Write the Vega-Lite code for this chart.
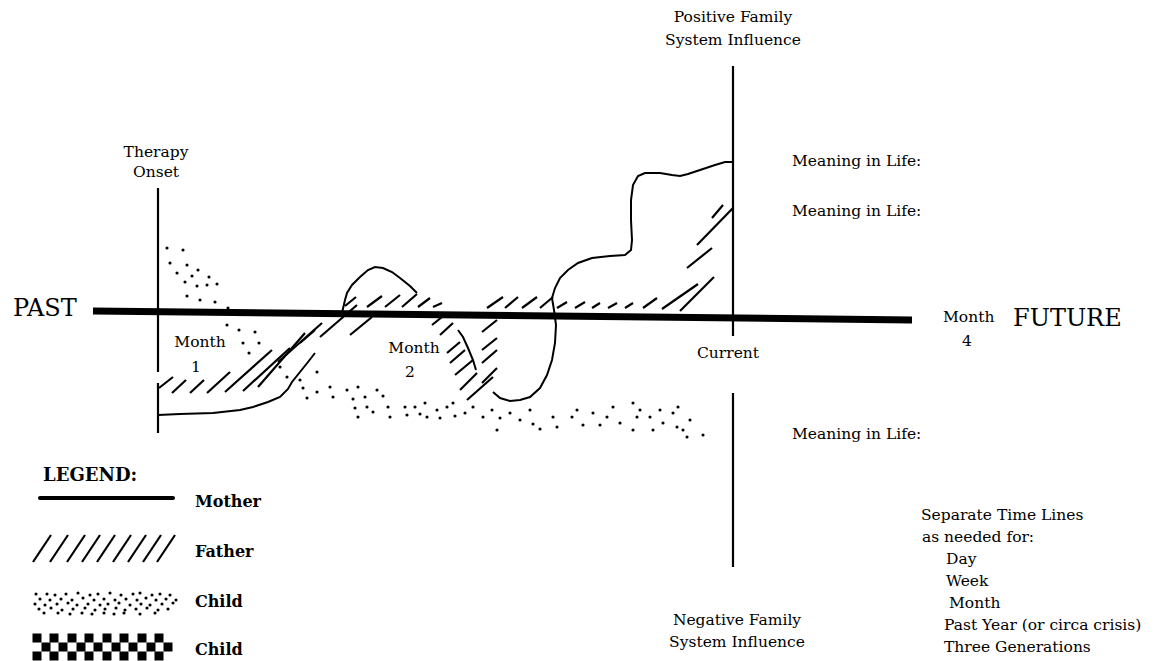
{
  "$schema": "https://vega.github.io/schema/vega-lite/v6.json",
  "width": 1165,
  "height": 661,
  "autosize": {"type": "fit", "contains": "padding"},
  "padding": 0,
  "background": "white",
  "config": {"view": {"stroke": null}},
  "datasets": {
    "vlines": [
      {"x": 158, "y": 188, "x2": 158, "y2": 372},
      {"x": 158, "y": 383, "x2": 158, "y2": 433},
      {"x": 733, "y": 66, "x2": 733, "y2": 336},
      {"x": 733, "y": 393, "x2": 733, "y2": 567}
    ],
    "axis": [{"x": 93, "y": 311, "x2": 912, "y2": 320}],
    "legendLine": [{"x": 40, "y": 498, "x2": 173, "y2": 498}],
    "hatch": [
      {"x": 159, "y": 388, "x2": 173, "y2": 377},
      {"x": 172, "y": 393, "x2": 186, "y2": 380},
      {"x": 190, "y": 393, "x2": 204, "y2": 380},
      {"x": 207, "y": 393, "x2": 230, "y2": 372},
      {"x": 225, "y": 392, "x2": 272, "y2": 350},
      {"x": 243, "y": 391, "x2": 290, "y2": 348},
      {"x": 258, "y": 387, "x2": 305, "y2": 333},
      {"x": 278, "y": 362, "x2": 322, "y2": 323},
      {"x": 300, "y": 343, "x2": 315, "y2": 330},
      {"x": 320, "y": 337, "x2": 357, "y2": 305},
      {"x": 350, "y": 335, "x2": 372, "y2": 317},
      {"x": 345, "y": 306, "x2": 356, "y2": 297},
      {"x": 367, "y": 307, "x2": 382, "y2": 296},
      {"x": 385, "y": 307, "x2": 400, "y2": 295},
      {"x": 402, "y": 307, "x2": 417, "y2": 294},
      {"x": 418, "y": 307, "x2": 430, "y2": 298},
      {"x": 433, "y": 307, "x2": 442, "y2": 303},
      {"x": 432, "y": 325, "x2": 447, "y2": 313},
      {"x": 440, "y": 335, "x2": 453, "y2": 323},
      {"x": 447, "y": 353, "x2": 460, "y2": 342},
      {"x": 450, "y": 363, "x2": 465, "y2": 350},
      {"x": 455, "y": 375, "x2": 473, "y2": 360},
      {"x": 460, "y": 390, "x2": 477, "y2": 373},
      {"x": 467, "y": 400, "x2": 493, "y2": 377},
      {"x": 482, "y": 383, "x2": 497, "y2": 368},
      {"x": 482, "y": 363, "x2": 497, "y2": 350},
      {"x": 482, "y": 350, "x2": 497, "y2": 338},
      {"x": 482, "y": 332, "x2": 497, "y2": 320},
      {"x": 487, "y": 308, "x2": 503, "y2": 297},
      {"x": 505, "y": 308, "x2": 518, "y2": 297},
      {"x": 522, "y": 308, "x2": 537, "y2": 297},
      {"x": 540, "y": 308, "x2": 553, "y2": 297},
      {"x": 557, "y": 308, "x2": 567, "y2": 302},
      {"x": 575, "y": 308, "x2": 585, "y2": 302},
      {"x": 592, "y": 308, "x2": 600, "y2": 303},
      {"x": 608, "y": 308, "x2": 617, "y2": 303},
      {"x": 625, "y": 308, "x2": 633, "y2": 303},
      {"x": 643, "y": 308, "x2": 657, "y2": 298},
      {"x": 662, "y": 309, "x2": 698, "y2": 284},
      {"x": 680, "y": 311, "x2": 714, "y2": 277},
      {"x": 687, "y": 268, "x2": 712, "y2": 248},
      {"x": 697, "y": 245, "x2": 733, "y2": 208},
      {"x": 712, "y": 218, "x2": 723, "y2": 205},
      {"x": 33, "y": 562, "x2": 51, "y2": 535},
      {"x": 50, "y": 562, "x2": 68, "y2": 535},
      {"x": 67, "y": 562, "x2": 85, "y2": 535},
      {"x": 82, "y": 562, "x2": 100, "y2": 535},
      {"x": 97, "y": 562, "x2": 115, "y2": 535},
      {"x": 113, "y": 562, "x2": 131, "y2": 535},
      {"x": 128, "y": 562, "x2": 146, "y2": 535},
      {"x": 143, "y": 562, "x2": 161, "y2": 535},
      {"x": 157, "y": 562, "x2": 175, "y2": 535}
    ],
    "mother": [
      {"seg": "a", "i": 1, "x": 158, "y": 415},
      {"seg": "a", "i": 2, "x": 180, "y": 414},
      {"seg": "a", "i": 3, "x": 213, "y": 413},
      {"seg": "a", "i": 4, "x": 240, "y": 410},
      {"seg": "a", "i": 5, "x": 253, "y": 407},
      {"seg": "a", "i": 6, "x": 268, "y": 402},
      {"seg": "a", "i": 7, "x": 280, "y": 397},
      {"seg": "a", "i": 8, "x": 288, "y": 389},
      {"seg": "a", "i": 9, "x": 292, "y": 382},
      {"seg": "a", "i": 10, "x": 300, "y": 372},
      {"seg": "a", "i": 11, "x": 308, "y": 362},
      {"seg": "a", "i": 12, "x": 315, "y": 353},
      {"seg": "b", "i": 1, "x": 342, "y": 313},
      {"seg": "b", "i": 2, "x": 345, "y": 300},
      {"seg": "b", "i": 3, "x": 347, "y": 293},
      {"seg": "b", "i": 4, "x": 352, "y": 285},
      {"seg": "b", "i": 5, "x": 360, "y": 277},
      {"seg": "b", "i": 6, "x": 368, "y": 270},
      {"seg": "b", "i": 7, "x": 375, "y": 267},
      {"seg": "b", "i": 8, "x": 383, "y": 268},
      {"seg": "b", "i": 9, "x": 392, "y": 272},
      {"seg": "b", "i": 10, "x": 400, "y": 278},
      {"seg": "b", "i": 11, "x": 410, "y": 286},
      {"seg": "b", "i": 12, "x": 417, "y": 293},
      {"seg": "c", "i": 1, "x": 458, "y": 330},
      {"seg": "c", "i": 2, "x": 463, "y": 337},
      {"seg": "c", "i": 3, "x": 468, "y": 348},
      {"seg": "c", "i": 4, "x": 473, "y": 360},
      {"seg": "c", "i": 5, "x": 476, "y": 370},
      {"seg": "d", "i": 1, "x": 493, "y": 392},
      {"seg": "d", "i": 2, "x": 500, "y": 398},
      {"seg": "d", "i": 3, "x": 510, "y": 401},
      {"seg": "d", "i": 4, "x": 520, "y": 400},
      {"seg": "d", "i": 5, "x": 530, "y": 397},
      {"seg": "d", "i": 6, "x": 540, "y": 388},
      {"seg": "d", "i": 7, "x": 547, "y": 375},
      {"seg": "d", "i": 8, "x": 552, "y": 360},
      {"seg": "d", "i": 9, "x": 555, "y": 343},
      {"seg": "d", "i": 10, "x": 556, "y": 325},
      {"seg": "d", "i": 11, "x": 554, "y": 310},
      {"seg": "d", "i": 12, "x": 552, "y": 298},
      {"seg": "d", "i": 13, "x": 555, "y": 288},
      {"seg": "d", "i": 14, "x": 560, "y": 278},
      {"seg": "d", "i": 15, "x": 568, "y": 270},
      {"seg": "d", "i": 16, "x": 578, "y": 263},
      {"seg": "d", "i": 17, "x": 592, "y": 258},
      {"seg": "d", "i": 18, "x": 610, "y": 256},
      {"seg": "d", "i": 19, "x": 625, "y": 255},
      {"seg": "d", "i": 20, "x": 631, "y": 250},
      {"seg": "d", "i": 21, "x": 632, "y": 240},
      {"seg": "d", "i": 22, "x": 631, "y": 220},
      {"seg": "d", "i": 23, "x": 631, "y": 200},
      {"seg": "d", "i": 24, "x": 633, "y": 185},
      {"seg": "d", "i": 25, "x": 638, "y": 176},
      {"seg": "d", "i": 26, "x": 645, "y": 173},
      {"seg": "d", "i": 27, "x": 660, "y": 173},
      {"seg": "d", "i": 28, "x": 672, "y": 175},
      {"seg": "d", "i": 29, "x": 680, "y": 176},
      {"seg": "d", "i": 30, "x": 688, "y": 174},
      {"seg": "d", "i": 31, "x": 700, "y": 170},
      {"seg": "d", "i": 32, "x": 715, "y": 165},
      {"seg": "d", "i": 33, "x": 725, "y": 162},
      {"seg": "d", "i": 34, "x": 733, "y": 162}
    ],
    "dots": [
      {"x": 167, "y": 248}, {"x": 183, "y": 250}, {"x": 170, "y": 263}, {"x": 187, "y": 265},
      {"x": 177, "y": 273}, {"x": 192, "y": 276}, {"x": 198, "y": 270}, {"x": 209, "y": 277},
      {"x": 185, "y": 282}, {"x": 197, "y": 286}, {"x": 207, "y": 285}, {"x": 217, "y": 284},
      {"x": 187, "y": 296}, {"x": 200, "y": 300}, {"x": 215, "y": 302}, {"x": 228, "y": 308},
      {"x": 227, "y": 325}, {"x": 239, "y": 330}, {"x": 255, "y": 332}, {"x": 243, "y": 343},
      {"x": 259, "y": 343}, {"x": 249, "y": 353}, {"x": 280, "y": 367}, {"x": 287, "y": 377},
      {"x": 300, "y": 380}, {"x": 303, "y": 388}, {"x": 307, "y": 398}, {"x": 317, "y": 372},
      {"x": 317, "y": 392}, {"x": 330, "y": 387}, {"x": 333, "y": 397}, {"x": 347, "y": 390},
      {"x": 353, "y": 399}, {"x": 358, "y": 387}, {"x": 365, "y": 397}, {"x": 377, "y": 390},
      {"x": 383, "y": 396}, {"x": 355, "y": 408}, {"x": 367, "y": 407}, {"x": 358, "y": 417},
      {"x": 373, "y": 412}, {"x": 388, "y": 407}, {"x": 390, "y": 417}, {"x": 405, "y": 407},
      {"x": 407, "y": 415}, {"x": 415, "y": 407}, {"x": 420, "y": 414}, {"x": 427, "y": 417},
      {"x": 425, "y": 403}, {"x": 437, "y": 410}, {"x": 440, "y": 418}, {"x": 447, "y": 407},
      {"x": 453, "y": 403}, {"x": 455, "y": 416}, {"x": 465, "y": 413}, {"x": 473, "y": 407},
      {"x": 483, "y": 417}, {"x": 492, "y": 410}, {"x": 500, "y": 418}, {"x": 497, "y": 430},
      {"x": 510, "y": 413}, {"x": 520, "y": 420}, {"x": 530, "y": 410}, {"x": 533, "y": 424},
      {"x": 540, "y": 429}, {"x": 553, "y": 417}, {"x": 557, "y": 427}, {"x": 572, "y": 417},
      {"x": 577, "y": 410}, {"x": 583, "y": 425}, {"x": 593, "y": 413}, {"x": 600, "y": 425},
      {"x": 607, "y": 417}, {"x": 613, "y": 407}, {"x": 620, "y": 423}, {"x": 633, "y": 403},
      {"x": 637, "y": 417}, {"x": 640, "y": 410}, {"x": 633, "y": 430}, {"x": 650, "y": 417},
      {"x": 653, "y": 430}, {"x": 660, "y": 410}, {"x": 663, "y": 423}, {"x": 673, "y": 413},
      {"x": 677, "y": 427}, {"x": 678, "y": 407}, {"x": 683, "y": 430}, {"x": 687, "y": 437},
      {"x": 703, "y": 435}, {"x": 690, "y": 420},
      {"x": 36, "y": 594}, {"x": 47, "y": 594}, {"x": 55, "y": 595}, {"x": 66, "y": 594}, {"x": 78, "y": 593},
      {"x": 90, "y": 595}, {"x": 98, "y": 594}, {"x": 110, "y": 593}, {"x": 121, "y": 595}, {"x": 133, "y": 594},
      {"x": 140, "y": 593}, {"x": 152, "y": 595}, {"x": 160, "y": 594}, {"x": 170, "y": 595},
      {"x": 40, "y": 599}, {"x": 50, "y": 600}, {"x": 61, "y": 599}, {"x": 72, "y": 600}, {"x": 83, "y": 598},
      {"x": 94, "y": 600}, {"x": 104, "y": 599}, {"x": 115, "y": 600}, {"x": 126, "y": 599}, {"x": 137, "y": 600},
      {"x": 146, "y": 598}, {"x": 156, "y": 600}, {"x": 166, "y": 599}, {"x": 176, "y": 600},
      {"x": 35, "y": 604}, {"x": 45, "y": 605}, {"x": 57, "y": 604}, {"x": 68, "y": 603}, {"x": 77, "y": 605},
      {"x": 88, "y": 604}, {"x": 100, "y": 605}, {"x": 108, "y": 604}, {"x": 119, "y": 603}, {"x": 130, "y": 605},
      {"x": 141, "y": 604}, {"x": 150, "y": 605}, {"x": 162, "y": 604}, {"x": 173, "y": 603},
      {"x": 39, "y": 609}, {"x": 51, "y": 608}, {"x": 62, "y": 610}, {"x": 73, "y": 609}, {"x": 85, "y": 608},
      {"x": 95, "y": 610}, {"x": 105, "y": 609}, {"x": 116, "y": 608}, {"x": 125, "y": 610}, {"x": 136, "y": 609},
      {"x": 147, "y": 608}, {"x": 158, "y": 610}, {"x": 168, "y": 609},
      {"x": 44, "y": 613}, {"x": 58, "y": 613}, {"x": 70, "y": 614}, {"x": 82, "y": 613}, {"x": 92, "y": 614},
      {"x": 104, "y": 613}, {"x": 114, "y": 614}, {"x": 124, "y": 613}, {"x": 140, "y": 614}, {"x": 155, "y": 613}
    ],
    "checker": [
      {"x": 37, "y": 638}, {"x": 54, "y": 638}, {"x": 72, "y": 638}, {"x": 89, "y": 638}, {"x": 107, "y": 638},
      {"x": 124, "y": 638}, {"x": 142, "y": 638}, {"x": 159, "y": 638},
      {"x": 46, "y": 647}, {"x": 63, "y": 647}, {"x": 81, "y": 647}, {"x": 98, "y": 647}, {"x": 116, "y": 647},
      {"x": 133, "y": 647}, {"x": 151, "y": 647}, {"x": 168, "y": 647},
      {"x": 37, "y": 656}, {"x": 54, "y": 656}, {"x": 72, "y": 656}, {"x": 89, "y": 656}, {"x": 107, "y": 656},
      {"x": 124, "y": 656}, {"x": 142, "y": 656}, {"x": 159, "y": 656}
    ],
    "centerText": [
      {"t": "Therapy", "x": 156, "y": 152},
      {"t": "Onset", "x": 156, "y": 172},
      {"t": "Month", "x": 200, "y": 342},
      {"t": "1", "x": 196, "y": 367},
      {"t": "Month", "x": 414, "y": 348},
      {"t": "2", "x": 410, "y": 372},
      {"t": "Current", "x": 728, "y": 353},
      {"t": "Positive Family", "x": 733, "y": 17},
      {"t": "System Influence", "x": 733, "y": 40},
      {"t": "Negative Family", "x": 737, "y": 620},
      {"t": "System Influence", "x": 737, "y": 642},
      {"t": "4", "x": 967, "y": 341}
    ],
    "leftText": [
      {"t": "Meaning in Life:", "x": 792, "y": 161},
      {"t": "Meaning in Life:", "x": 792, "y": 211},
      {"t": "Meaning in Life:", "x": 792, "y": 434},
      {"t": "Month", "x": 943, "y": 317},
      {"t": "Separate Time Lines", "x": 921, "y": 515},
      {"t": "as needed for:", "x": 922, "y": 537},
      {"t": "Day", "x": 946, "y": 559},
      {"t": "Week", "x": 946, "y": 581},
      {"t": "Month", "x": 949, "y": 603},
      {"t": "Past Year (or circa crisis)", "x": 944, "y": 625},
      {"t": "Three Generations", "x": 944, "y": 647}
    ],
    "bigText": [
      {"t": "PAST", "x": 13, "y": 309},
      {"t": "FUTURE", "x": 1013, "y": 319}
    ],
    "legendText": [
      {"t": "Mother", "x": 195, "y": 502},
      {"t": "Father", "x": 195, "y": 552},
      {"t": "Child", "x": 195, "y": 602},
      {"t": "Child", "x": 195, "y": 650}
    ],
    "legendTitle": [
      {"t": "LEGEND:", "x": 43, "y": 476}
    ]
  },
  "encoding": {
    "x": {"field": "x", "type": "quantitative", "scale": {"domain": [0, 1165], "nice": false, "zero": false}, "axis": null},
    "y": {"field": "y", "type": "quantitative", "scale": {"domain": [0, 661], "reverse": true, "nice": false, "zero": false}, "axis": null}
  },
  "layer": [
    {
      "data": {"name": "vlines"},
      "mark": {"type": "rule", "color": "black", "strokeWidth": 2.2},
      "encoding": {"x2": {"field": "x2"}, "y2": {"field": "y2"}}
    },
    {
      "data": {"name": "axis"},
      "mark": {"type": "rule", "color": "black", "strokeWidth": 7},
      "encoding": {"x2": {"field": "x2"}, "y2": {"field": "y2"}}
    },
    {
      "data": {"name": "legendLine"},
      "mark": {"type": "rule", "color": "black", "strokeWidth": 4, "strokeCap": "round"},
      "encoding": {"x2": {"field": "x2"}, "y2": {"field": "y2"}}
    },
    {
      "data": {"name": "hatch"},
      "mark": {"type": "rule", "color": "black", "strokeWidth": 2.2},
      "encoding": {"x2": {"field": "x2"}, "y2": {"field": "y2"}}
    },
    {
      "data": {"name": "mother"},
      "mark": {"type": "line", "color": "black", "strokeWidth": 2},
      "encoding": {"detail": {"field": "seg"}, "order": {"field": "i", "type": "quantitative"}}
    },
    {
      "data": {"name": "dots"},
      "mark": {"type": "point", "filled": true, "color": "black", "size": 10, "opacity": 1}
    },
    {
      "data": {"name": "checker"},
      "mark": {"type": "point", "shape": "square", "filled": true, "color": "black", "size": 81, "opacity": 1}
    },
    {
      "data": {"name": "centerText"},
      "mark": {"type": "text", "font": "DejaVu Serif", "fontSize": 15.5, "align": "center", "baseline": "middle", "color": "black"},
      "encoding": {"text": {"field": "t"}}
    },
    {
      "data": {"name": "leftText"},
      "mark": {"type": "text", "font": "DejaVu Serif", "fontSize": 15.5, "align": "left", "baseline": "middle", "color": "black"},
      "encoding": {"text": {"field": "t"}}
    },
    {
      "data": {"name": "bigText"},
      "mark": {"type": "text", "font": "DejaVu Serif", "fontSize": 24, "align": "left", "baseline": "middle", "color": "black"},
      "encoding": {"text": {"field": "t"}}
    },
    {
      "data": {"name": "legendText"},
      "mark": {"type": "text", "font": "DejaVu Serif", "fontWeight": "bold", "fontSize": 16, "align": "left", "baseline": "middle", "color": "black"},
      "encoding": {"text": {"field": "t"}}
    },
    {
      "data": {"name": "legendTitle"},
      "mark": {"type": "text", "font": "DejaVu Serif", "fontWeight": "bold", "fontSize": 18, "align": "left", "baseline": "middle", "color": "black"},
      "encoding": {"text": {"field": "t"}}
    }
  ]
}
